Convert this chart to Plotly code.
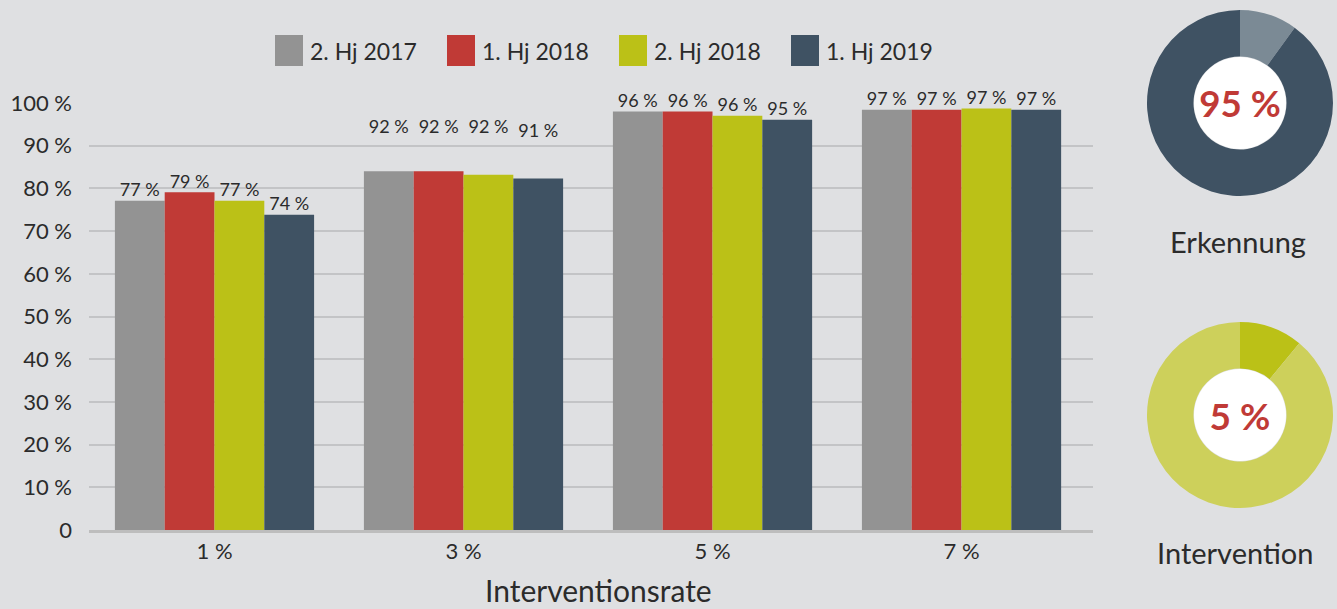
import plotly.graph_objects as go

# ---------------- data ----------------
categories = ["1 %", "3 %", "5 %", "7 %"]
series_names = ["2. Hj 2017", "1. Hj 2018", "2. Hj 2018", "1. Hj 2019"]

# bar heights as drawn (percent)
bars_h2_2017 = [77.1, 84.0, 98.0, 98.4]
bars_h1_2018 = [79.1, 84.0, 98.0, 98.4]
bars_h2_2018 = [77.1, 83.2, 97.0, 98.7]
bars_h1_2019 = [73.8, 82.3, 96.1, 98.4]

# printed value labels (percent)
labels_h2_2017 = [77, 92, 96, 97]
labels_h1_2018 = [79, 92, 96, 97]
labels_h2_2018 = [77, 92, 96, 97]
labels_h1_2019 = [74, 91, 95, 97]

y_tick_vals = [0, 10, 20, 30, 40, 50, 60, 70, 80, 90, 100]
y_tick_text = ["0", "10 %", "20 %", "30 %", "40 %", "50 %", "60 %", "70 %", "80 %", "90 %", "100 %"]

x_title = "Interventionsrate"

# donuts
erkennung_values = [10, 90]          # rest, share
erkennung_center = "95 %"
erkennung_name = "Erkennung"
intervention_values = [11, 89]       # share, rest
intervention_center = "5 %"
intervention_name = "Intervention"

# ---------------- styling ----------------
FONT = "Lato, 'Open Sans', sans-serif"
TXT = "#2b2b2b"
BG = "#dfe0e2"
series_colors = ["#939393", "#c03a36", "#bbc117", "#3f5263"]
erkennung_colors = ["#7b8a95", "#3f5263"]
intervention_colors = ["#bbc117", "#cdd05b"]
RED = "#c03a36"

W, H = 1337, 609
ML, MR, MT, MB = 89, 4, 10, 79
PW = W - ML - MR
PH = H - MT - MB


def px_x(px):
    return (px - ML) / PW


def px_y(py):
    return (H - MB - py) / PH


bar_series = [bars_h2_2017, bars_h1_2018, bars_h2_2018, bars_h1_2019]
label_series = [labels_h2_2017, labels_h1_2018, labels_h2_2018, labels_h1_2019]

fig = go.Figure()

for name, vals, col in zip(series_names, bar_series, series_colors):
    fig.add_trace(go.Bar(
        x=categories, y=vals, name=name, marker=dict(color=col, line=dict(width=0)),
        showlegend=False, hoverinfo="skip",
    ))

for name, vals, labs in zip(series_names, bar_series, label_series):
    fig.add_trace(go.Scatter(
        x=categories, y=[max(v, l) for v, l in zip(vals, labs)],
        text=[f"{l} %" for l in labs], mode="text", textposition="top center",
        textfont=dict(family=FONT, size=18, color=TXT), cliponaxis=False,
        showlegend=False, hoverinfo="skip", name=name,
    ))

# donuts
fig.add_trace(go.Pie(
    values=erkennung_values, hole=0.5, sort=False, direction="counterclockwise",
    marker=dict(colors=erkennung_colors, line=dict(width=0)), textinfo="none",
    hoverinfo="skip", showlegend=False,
    domain=dict(x=[px_x(1147), px_x(1333)], y=[px_y(196), px_y(10)]),
    title=dict(text=f"<b>{erkennung_center}</b>", position="middle center",
               font=dict(family=FONT, size=37, color=RED)),
))
fig.add_trace(go.Pie(
    values=intervention_values, hole=0.5, sort=False, direction="clockwise",
    marker=dict(colors=intervention_colors, line=dict(width=0)), textinfo="none",
    hoverinfo="skip", showlegend=False,
    domain=dict(x=[px_x(1147), px_x(1333)], y=[px_y(508), px_y(322)]),
    title=dict(text=f"<b>{intervention_center}</b>", position="middle center",
               font=dict(family=FONT, size=37, color=RED)),
))

shapes = []
annotations = []
# white discs inside donut holes
for cy in (103, 415):
    shapes.append(dict(type="circle", xref="paper", yref="paper", layer="below",
                       x0=px_x(1240 - 46), x1=px_x(1240 + 46),
                       y0=px_y(cy + 46), y1=px_y(cy - 46),
                       fillcolor="white", line=dict(width=0)))

# custom legend with large squares
for i, (name, col) in enumerate(zip(series_names, series_colors)):
    x0 = 275 + 172 * i
    shapes.append(dict(type="rect", xref="paper", yref="paper",
                       x0=px_x(x0), x1=px_x(x0 + 28), y0=px_y(66), y1=px_y(35),
                       fillcolor=col, line=dict(width=0)))
    annotations.append(dict(xref="paper", yref="paper", x=px_x(x0 + 33), y=px_y(51),
                            xanchor="left", yanchor="middle", showarrow=False,
                            text=name, font=dict(family=FONT, size=23, color=TXT)))

annotations.append(dict(xref="paper", yref="paper", x=px_x(1238), y=px_y(242),
                        xanchor="center", yanchor="middle", showarrow=False,
                        text=erkennung_name, font=dict(family=FONT, size=29, color=TXT)))
annotations.append(dict(xref="paper", yref="paper", x=px_x(1235), y=px_y(552),
                        xanchor="center", yanchor="middle", showarrow=False,
                        text=intervention_name, font=dict(family=FONT, size=29, color=TXT)))
annotations.append(dict(xref="paper", yref="paper", x=px_x(598), y=px_y(590),
                        xanchor="center", yanchor="middle", showarrow=False,
                        text=x_title, font=dict(family=FONT, size=30, color=TXT)))

fig.update_layout(
    width=W, height=H,
    margin=dict(l=ML, r=MR, t=MT, b=MB, pad=0, autoexpand=False),
    paper_bgcolor=BG, plot_bgcolor=BG,
    barmode="group", bargap=0.2, bargroupgap=0,
    scattermode="group", scattergap=0.2,
    font=dict(family=FONT, color=TXT),
    shapes=shapes, annotations=annotations,
    xaxis=dict(domain=[0, px_x(1093)], range=[-0.504, 3.528], showgrid=False, showline=True,
               linecolor="#bdbdbd", linewidth=3, ticks="", automargin=False,
               tickfont=dict(family=FONT, size=22, color=TXT), ticklabelstandoff=0),
    yaxis=dict(domain=[0, px_y(103)], range=[0, 100], tickvals=y_tick_vals, ticktext=y_tick_text,
               showgrid=True, gridcolor="#c3c4c6", gridwidth=2, zeroline=False, ticks="",
               automargin=False,
               tickfont=dict(family=FONT, size=22, color=TXT), ticklabelstandoff=16),
)

fig.write_html("out.html", config={"displayModeBar": False},
               post_script="document.body.style.margin='0';document.body.style.overflow='hidden';")
